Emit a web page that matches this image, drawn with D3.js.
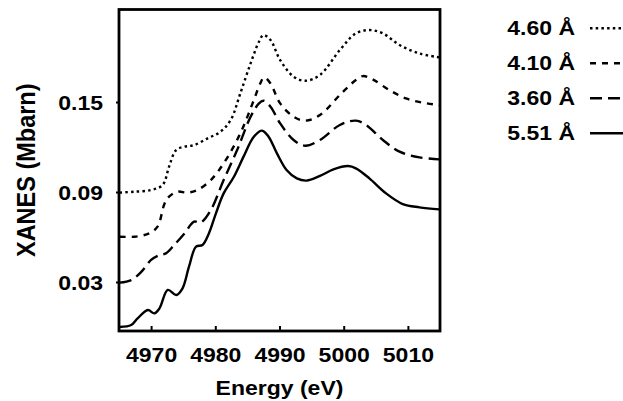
<!DOCTYPE html>
<html>
<head>
<meta charset="utf-8">
<script src="https://cdn.jsdelivr.net/npm/d3@7"></script>
<style>
  html, body { margin: 0; padding: 0; background: #fff; }
  svg { display: block; }
  text { font-family: "Liberation Sans", Arial, Helvetica, sans-serif; font-weight: bold; fill: #000; }
</style>
</head>
<body>
<svg id="chart" width="623" height="401"></svg>
<script>
// ---------------- data ----------------
const seriesNames = ["4.60 Å", "4.10 Å", "3.60 Å", "5.51 Å"];
const xTickValues = [4970, 4980, 4990, 5000, 5010];
const yTickValues = [0.03, 0.09, 0.15];
const xAxisTitle = "Energy (eV)";
const yAxisTitle = "XANES (Mbarn)";

// energies (eV) and XANES values (Mbarn)
const energy460 = [4965.1,4967.4,4970,4971.8,4972.8,4973.9,4975.2,4976.7,4978.8,4980.8,4982.4,4983.9,4985.5,4986.8,4987.5,4988.6,4990.1,4992.2,4994,4996.3,4999.4,5001.9,5004,5006.1,5008.7,5011.8,5014.9];
const value460  = [0.0896,0.0902,0.0913,0.0947,0.1069,0.118,0.1202,0.1213,0.1258,0.1302,0.138,0.1558,0.1758,0.1902,0.1947,0.1913,0.178,0.1669,0.1642,0.168,0.1847,0.1958,0.198,0.1958,0.188,0.1824,0.1798];

const energy410 = [4965.1,4967.4,4969.7,4971,4972.1,4972.8,4974.1,4975.7,4977.2,4979.3,4981.3,4983.9,4986,4987,4987.6,4988.6,4990.1,4992.2,4994,4996.3,4999.4,5001.9,5003,5004.5,5007.1,5009.7,5012.3,5014.9];
const value410  = [0.0602,0.0602,0.0624,0.0669,0.0824,0.0869,0.0902,0.0896,0.0913,0.098,0.1091,0.1291,0.1513,0.1624,0.1664,0.1624,0.1491,0.1402,0.1376,0.1413,0.1547,0.1647,0.1673,0.1651,0.158,0.1524,0.1496,0.148];

const energy360 = [4965.1,4966.9,4968.5,4970,4971.3,4972.3,4973.6,4975.2,4976.7,4977.7,4979.3,4981.3,4983.4,4985.5,4986.8,4987.5,4988.6,4990.1,4992.2,4994,4996.3,4999.4,5001.9,5003.5,5006.1,5008.7,5011.8,5014.9];
const value360  = [0.0296,0.0313,0.0369,0.0447,0.048,0.0491,0.0547,0.0624,0.0702,0.0696,0.078,0.098,0.118,0.1402,0.1491,0.1509,0.1469,0.1358,0.1247,0.1209,0.1247,0.1347,0.1376,0.1347,0.1247,0.1169,0.1131,0.1118];

const energy551 = [4965.1,4966.9,4967.9,4969.5,4970.5,4971.3,4972.6,4973.9,4974.9,4975.9,4977,4978,4979,4980.1,4981.3,4982.9,4984.4,4986,4987.3,4988.3,4989.6,4991.1,4992.7,4994.2,4996.3,4998.4,5000.7,5001.9,5004,5006.6,5009.2,5011.8,5014.9];
const value551  = [0.0,0.0013,0.0058,0.0113,0.0091,0.0124,0.0247,0.0213,0.0258,0.0402,0.0536,0.0547,0.0624,0.0758,0.0891,0.1002,0.1136,0.1269,0.1309,0.1269,0.1158,0.1047,0.0991,0.0976,0.1007,0.1051,0.1073,0.1058,0.0991,0.0891,0.082,0.0798,0.0784];

const seriesEnergy = [energy460, energy410, energy360, energy551];
const seriesValue  = [value460, value410, value360, value551];
const seriesDash   = ["2.5,3.2", "6,6", "12,6", null];

// ---------------- layout ----------------
const mLeft = 119, mRight = 440, mTop = 9.5, mBottom = 331;
const sx = 1.15;      // horizontal text stretch seen in the picture
const fs = 20;

const svg = d3.select("#chart");
const x = d3.scaleLinear().domain([4965, 5015]).range([mLeft, mRight]);
const y = d3.scaleLinear().domain([-0.00267, 0.2117]).range([mBottom, mTop]);

svg.append("defs").append("clipPath").attr("id", "clip")
  .append("rect").attr("x", mLeft).attr("y", mTop)
  .attr("width", mRight - mLeft).attr("height", mBottom - mTop);

// curves
const line = d3.line()
  .x(d => x(d[0])).y(d => y(d[1]))
  .curve(d3.curveCatmullRom.alpha(0.5));

const plot = svg.append("g").attr("clip-path", "url(#clip)");
seriesNames.forEach((name, i) => {
  const pts = seriesEnergy[i].map((e, j) => [e, seriesValue[i][j]]);
  plot.append("path")
    .datum(pts)
    .attr("d", line)
    .attr("fill", "none")
    .attr("stroke", "#000")
    .attr("stroke-width", 2.4)
    .attr("stroke-dasharray", seriesDash[i])
    .attr("stroke-linecap", "butt");
});

// x axis
const gx = svg.append("g").attr("transform", `translate(0,${mBottom})`)
  .call(d3.axisBottom(x).tickValues(xTickValues).tickSizeInner(-5).tickSizeOuter(0).tickFormat(d3.format("d")));
gx.select(".domain").remove();
gx.selectAll(".tick line").attr("stroke", "#000").attr("stroke-width", 2);
gx.selectAll(".tick text")
  .attr("y", 31).attr("dy", null)
  .attr("transform", `scale(${sx},1)`)
  .style("font-size", fs + "px").style("font-family", null);

// y axis
const gy = svg.append("g").attr("transform", `translate(${mLeft},0)`)
  .call(d3.axisLeft(y).tickValues(yTickValues).tickSizeInner(3).tickSizeOuter(0).tickFormat(d3.format(".2f")));
gy.select(".domain").remove();
gy.selectAll(".tick line").attr("stroke", "#000").attr("stroke-width", 2);
gy.selectAll(".tick text")
  .attr("x", -16 / sx).attr("dy", "0.36em")
  .attr("transform", `scale(${sx},1)`)
  .style("font-size", fs + "px").style("font-family", null);

// frame
svg.append("rect")
  .attr("x", mLeft).attr("y", mTop)
  .attr("width", mRight - mLeft).attr("height", mBottom - mTop)
  .attr("fill", "none").attr("stroke", "#000").attr("stroke-width", 2.8);

// axis titles
svg.append("text")
  .attr("transform", `translate(${(mLeft + mRight) / 2},395) scale(${sx},1)`)
  .attr("text-anchor", "middle")
  .style("font-size", fs + "px")
  .text(xAxisTitle);

svg.append("text")
  .attr("transform", `translate(35,${(mTop + mBottom) / 2}) rotate(-90) scale(1,1.08)`)
  .attr("text-anchor", "middle")
  .style("font-size", "23.5px")
  .text(yAxisTitle);

// legend
const legendRowY = d3.scalePoint().domain(seriesNames).range([28.3, 133.3]);
const lg = svg.append("g");
seriesNames.forEach((name, i) => {
  const cy = legendRowY(name);
  lg.append("text")
    .attr("transform", `translate(575,${cy + 7}) scale(${sx},1)`)
    .attr("text-anchor", "end")
    .style("font-size", fs + "px")
    .text(name);
  lg.append("line")
    .attr("x1", 590).attr("x2", 640)
    .attr("y1", cy).attr("y2", cy)
    .attr("stroke", "#000").attr("stroke-width", 2.4)
    .attr("stroke-dasharray", seriesDash[i]);
});
</script>
</body>
</html>
